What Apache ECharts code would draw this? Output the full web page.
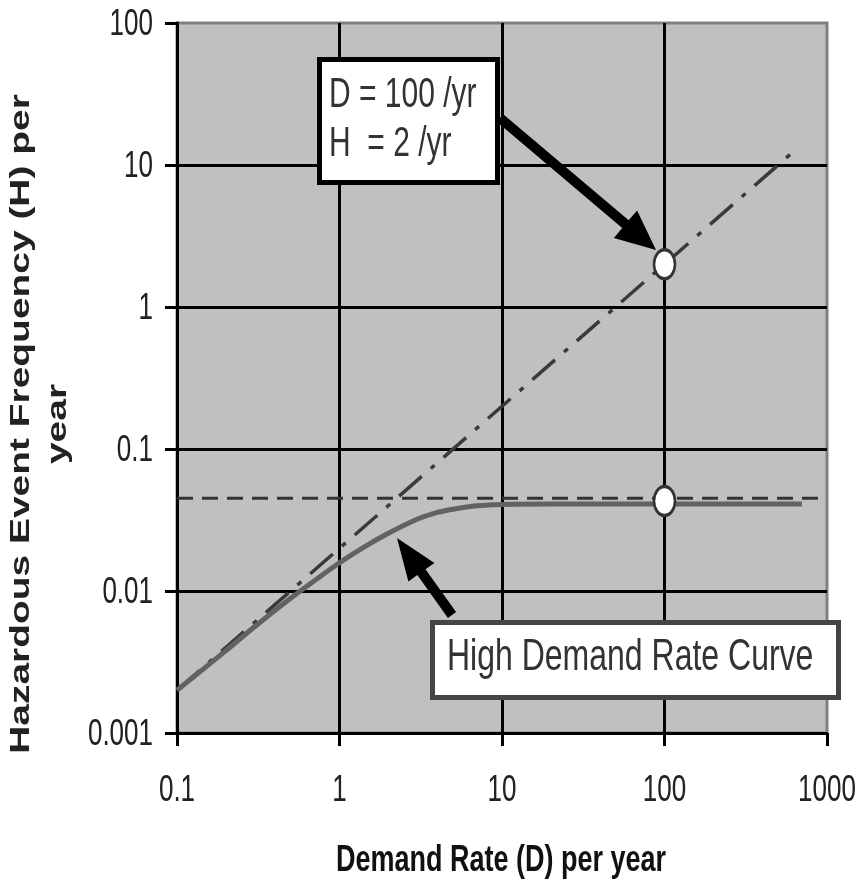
<!DOCTYPE html>
<html>
<head>
<meta charset="utf-8">
<script src="https://cdn.jsdelivr.net/npm/echarts@6/dist/echarts.min.js"></script>
<style>
  html, body { margin: 0; padding: 0; background: #fff; }
  #chart { width: 859px; height: 881px; }
</style>
</head>
<body>
<div id="chart"></div>
<script>
// demand rate axis / frequency axis ranges (log)
var xRange = [0.1, 1000];
var yRange = [0.001, 100];

// tick labels
var xTickValues = [0.1, 1, 10, 100, 1000];
var xTickLabels = ['0.1', '1', '10', '100', '1000'];
var yTickValues = [0.001, 0.01, 0.1, 1, 10, 100];
var yTickLabels = ['0.001', '0.01', '0.1', '1', '10', '100'];

// dash-dot line H = D/50
var diagonalD = [0.1, 650];
var diagonalH = [0.002, 13];

// high demand rate curve
var curveD = [0.1, 0.2, 0.3, 0.5, 0.7, 1, 1.5, 2, 3, 4, 5, 7, 10, 20, 50, 100, 300, 700];
var curveH = [0.002, 0.0038, 0.0056, 0.0089, 0.0118, 0.0158, 0.0212, 0.0255, 0.032, 0.0358,
              0.0377, 0.0398, 0.0407, 0.041, 0.041, 0.041, 0.041, 0.041];

// horizontal dashed level
var levelD = [0.1, 1000];
var levelH = [0.045, 0.045];

// marked points
var pointD = [100, 100];
var pointH = [2, 0.043];

function pairs(xs, ys) {
    return xs.map(function (x, i) { return [x, ys[i]]; });
}

// polygon for a thick arrow, tail -> tip
function arrowPoints(x1, y1, x2, y2, headLen, headHalf, shaftHalf) {
    var dx = x2 - x1, dy = y2 - y1;
    var len = Math.sqrt(dx * dx + dy * dy);
    var ux = dx / len, uy = dy / len;
    var nx = -uy, ny = ux;
    var bx = x2 - ux * headLen, by = y2 - uy * headLen;
    return [
        [x1 + nx * shaftHalf, y1 + ny * shaftHalf],
        [bx + nx * shaftHalf, by + ny * shaftHalf],
        [bx + nx * headHalf, by + ny * headHalf],
        [x2, y2],
        [bx - nx * headHalf, by - ny * headHalf],
        [bx - nx * shaftHalf, by - ny * shaftHalf],
        [x1 - nx * shaftHalf, y1 - ny * shaftHalf]
    ];
}

var textFont = '"Liberation Sans", Arial, sans-serif';
var stretch = 1.39; // the picture is stretched vertically

var chart = echarts.init(document.getElementById('chart'));

var graphics = [
    // y axis title
    {
        type: 'text',
        x: 40,
        y: 424,
        rotation: Math.PI / 2,
        scaleX: stretch,
        z: 100,
        style: {
            text: 'Hazardous Event Frequency (H) per\nyear',
            font: 'bold 28px ' + textFont,
            fill: '#222',
            align: 'center',
            verticalAlign: 'middle',
            lineHeight: 37
        }
    },
    // x axis title
    {
        type: 'text',
        x: 501,
        y: 861,
        scaleY: stretch,
        z: 100,
        style: {
            text: 'Demand Rate (D) per year',
            font: 'bold 27px ' + textFont,
            fill: '#111',
            align: 'center',
            verticalAlign: 'middle'
        }
    },
    // D/H callout
    {
        type: 'rect',
        z: 100,
        shape: { x: 319.5, y: 59.5, width: 178, height: 123 },
        style: { fill: '#fff', stroke: '#000', lineWidth: 5 }
    },
    {
        type: 'text',
        x: 329,
        y: 96,
        scaleY: stretch,
        z: 101,
        style: {
            text: 'D = 100 /yr',
            font: '30px ' + textFont,
            fill: '#333',
            align: 'left',
            verticalAlign: 'middle'
        }
    },
    {
        type: 'text',
        x: 329,
        y: 145,
        scaleY: stretch,
        z: 101,
        style: {
            text: 'H  = 2 /yr',
            font: '30px ' + textFont,
            fill: '#333',
            align: 'left',
            verticalAlign: 'middle'
        }
    },
    {
        type: 'polygon',
        z: 100,
        shape: { points: arrowPoints(500, 118, 656, 250, 40, 18, 5) },
        style: { fill: '#000' }
    },
    // curve callout
    {
        type: 'rect',
        z: 100,
        shape: { x: 432.5, y: 622.5, width: 406, height: 75 },
        style: { fill: '#fff', stroke: '#444', lineWidth: 5 }
    },
    {
        type: 'text',
        x: 447,
        y: 658,
        scaleY: stretch,
        z: 101,
        style: {
            text: 'High Demand Rate Curve',
            font: '32px ' + textFont,
            fill: '#333',
            align: 'left',
            verticalAlign: 'middle'
        }
    },
    {
        type: 'polygon',
        z: 100,
        shape: { points: arrowPoints(452, 615, 397, 538, 42, 16, 5) },
        style: { fill: '#000' }
    }
];

var option = {
    animation: false,
    backgroundColor: '#ffffff',
    grid: {
        left: 177,
        right: 32,
        top: 23,
        bottom: 148,
        outerBoundsMode: 'none',
        containLabel: false,
        show: true,
        backgroundColor: '#c0c0c0',
        borderColor: '#808080',
        borderWidth: 3
    },
    xAxis: {
        type: 'log',
        logBase: 10,
        min: xRange[0],
        max: xRange[1],
        axisLine: { show: true, onZero: false, lineStyle: { color: '#000', width: 3 } },
        axisTick: { show: true, inside: false, length: 13, lineStyle: { color: '#000', width: 3 } },
        minorTick: { show: false },
        splitLine: { show: true, showMaxLine: false, lineStyle: { color: '#000', width: 3 } },
        axisLabel: { show: false }
    },
    yAxis: {
        type: 'log',
        logBase: 10,
        min: yRange[0],
        max: yRange[1],
        axisLine: { show: true, onZero: false, lineStyle: { color: '#000', width: 3 } },
        axisTick: { show: true, inside: false, length: 12, lineStyle: { color: '#000', width: 3 } },
        minorTick: { show: false },
        splitLine: { show: true, showMaxLine: false, lineStyle: { color: '#000', width: 3 } },
        axisLabel: { show: false }
    },
    series: [
        {
            name: 'level',
            type: 'line',
            data: pairs(levelD, levelH),
            symbol: 'none',
            lineStyle: { color: '#333', width: 3, type: [16, 9] },
            z: 3
        },
        {
            name: 'H = D/50',
            type: 'line',
            data: pairs(diagonalD, diagonalH),
            symbol: 'none',
            lineStyle: { color: '#3a3a3a', width: 3.5, type: [30, 12, 5, 12] },
            z: 3
        },
        {
            name: 'High Demand Rate Curve',
            type: 'line',
            data: pairs(curveD, curveH),
            symbol: 'none',
            smooth: 0.3,
            lineStyle: { color: '#626262', width: 5 },
            z: 4
        },
        {
            name: 'points',
            type: 'scatter',
            data: pairs(pointD, pointH),
            symbol: 'path://M0,-1A1,1 0 1,1 0,1A1,1 0 1,1 0,-1Z',
            symbolKeepAspect: false,
            symbolSize: [21, 29],
            itemStyle: { color: '#fff', borderColor: '#333', borderWidth: 3, opacity: 1 },
            z: 6
        }
    ],
    graphic: graphics
};
chart.setOption(option);

// tick labels: placed through the axis scales, drawn stretched like the picture
xTickValues.forEach(function (v, i) {
    var px = chart.convertToPixel({ xAxisIndex: 0 }, v);
    graphics.push({
        type: 'text',
        x: px,
        y: 791,
        scaleY: stretch,
        z: 100,
        style: {
            text: xTickLabels[i],
            font: '26px ' + textFont,
            fill: '#222',
            align: 'center',
            verticalAlign: 'middle'
        }
    });
});
yTickValues.forEach(function (v, i) {
    var py = chart.convertToPixel({ yAxisIndex: 0 }, v);
    graphics.push({
        type: 'text',
        x: 153,
        y: py + 2,
        scaleY: stretch,
        z: 100,
        style: {
            text: yTickLabels[i],
            font: '26px ' + textFont,
            fill: '#222',
            align: 'right',
            verticalAlign: 'middle'
        }
    });
});
chart.setOption({ graphic: graphics });
</script>
</body>
</html>
